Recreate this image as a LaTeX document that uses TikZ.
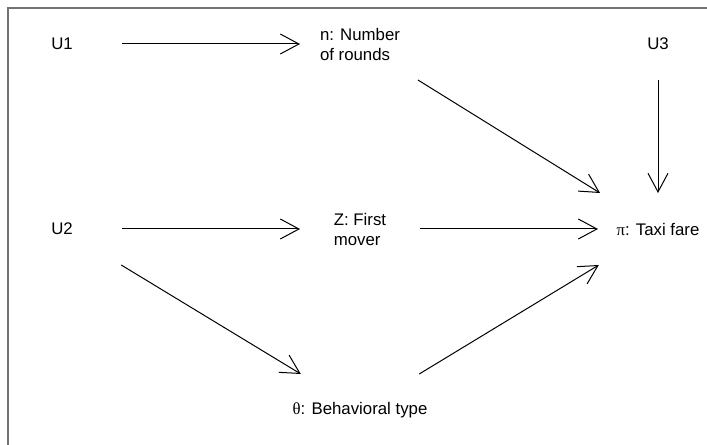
\documentclass[tikz,border=0pt]{standalone}
\usepackage{fontspec}
\setmainfont{Liberation Sans}
\newfontfamily\grk{Liberation Serif}
\usepackage{tikz}
\usetikzlibrary{arrows.meta,calc}
\tikzset{%
        var/.style = {
            minimum width = 90pt,
            minimum height = 54pt,
            inner sep = 0pt,
            outer sep = 0pt,
            align = left,
            font = \fontsize{12.6pt}{15pt}\selectfont
        },
        cause/.style = {
            -{Straight Barb[length=14pt, width=15pt]},
            line width = 0.75pt,
            draw = black
        },
        frame/.style = {
            draw = black!55,
            line width = 1.5pt
        }
}

\begin{document}
\begin{tikzpicture}[x=0.75pt, y=-0.75pt, node distance=223.5pt]
        \useasboundingbox (0,0) rectangle (707,445);
        \draw[frame] (8,450) -- (8,8) -- (712,8);
        \node[var] (u1) at (62,44) {U1};
        \node[var] (n) [right of=u1] {n: Number\\of rounds};
        \node[var] (u3) [right of=n] {U3};
        \node[var] (u2) at (62,229) {U2};
        \node[var] (z) [right of=u2] {Z: First\\mover};
        \node[var] (pi) [right of=z] {{\grk π}: Taxi fare};
        \node[var] (theta) at (360,410) {{\grk θ}: Behavioral type};
      \path[cause]
      (u1) edge (n)
      (n) edge (pi)
      (u3) edge (pi)
      (u2) edge (z)
      edge (theta)
      (z) edge (pi)
      (theta) edge (pi)
      ;
\end{tikzpicture}
\end{document}
